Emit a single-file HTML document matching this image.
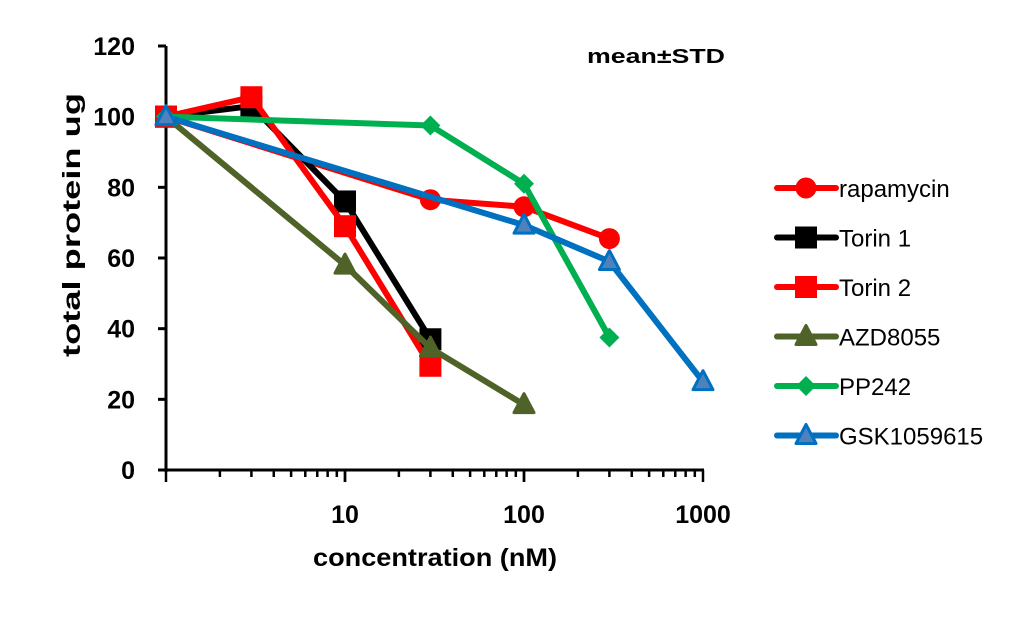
<!DOCTYPE html>
<html><head><meta charset="utf-8"><style>
body{margin:0;background:#fff;font-family:"Liberation Sans",sans-serif;}
svg text{font-family:"Liberation Sans",sans-serif;font-weight:bold;}
</style></head><body>
<svg id="chart" width="1020" height="632">
<g id="axes"></g><g id="series"></g><g id="legend"></g>
<text x="587" y="63" font-size="20" textLength="138" lengthAdjust="spacingAndGlyphs">mean±STD</text>
<text x="313" y="566" font-size="25" textLength="244" lengthAdjust="spacingAndGlyphs">concentration (nM)</text>
<text transform="translate(80,357) rotate(-90)" font-size="25" textLength="264" lengthAdjust="spacingAndGlyphs">total protein ug</text>
</svg>
<script>
const seriesNames=["rapamycin","Torin 1","Torin 2","AZD8055","PP242","GSK1059615"];
const rapamycinX=[1,30,100,300], rapamycinY=[100,76.5,74.5,65.5];
const torin1X=[1,3,10,30], torin1Y=[100,103,76,37];
const torin2X=[1,3,10,30], torin2Y=[100,105.5,69,29.5];
const azdX=[1,10,30,100], azdY=[100,58,34.5,18.5];
const pp242X=[1,30,100,300], pp242Y=[100,97.5,81,37.5];
const gskX=[1,100,300,1000], gskY=[100,69.3,59,25];
const yTicks=[0,20,40,60,80,100,120];
const xTickLabels=[10,100,1000];
const NS="http://www.w3.org/2000/svg";
const X=v=>166+Math.log10(v)*179, Y=v=>470-v*(424/120);
function mk(t,a,p){const e=document.createElementNS(NS,t);for(const k in a)e.setAttribute(k,a[k]);p.appendChild(e);return e;}
const ax=document.getElementById('axes');
let l=mk('line',{x1:166,y1:46,x2:166,y2:472,stroke:'#000','stroke-width':3},ax);


l=mk('line',{x1:164,y1:470,x2:704,y2:470,stroke:'#000','stroke-width':3},ax);


yTicks.forEach(v=>{mk('line',{x1:158,y1:Y(v),x2:166,y2:Y(v),stroke:'#000','stroke-width':3},ax);
 const t=mk('text',{x:135,y:Y(v)+9,'font-size':25,'text-anchor':'end'},ax);t.textContent=v;
 
 });
for(let d=0;d<3;d++)for(let m=1;m<=10;m++){const v=Math.pow(10,d)*m;const major=m===1||m===10;
 mk('line',{x1:X(v),y1:470,x2:X(v),y2:major?482:477,stroke:'#000','stroke-width':2.5},ax);}
xTickLabels.forEach(v=>{const t=mk('text',{x:X(v),y:523,'font-size':25,'text-anchor':'middle'},ax);t.textContent=v;
 
 });
const defs=[[rapamycinX,rapamycinY,'#ff0000','#ff0000','circle'],[torin1X,torin1Y,'#000','#000','square'],
[torin2X,torin2Y,'#ff0000','#ff0000','square'],[azdX,azdY,'#4f6228','#4f6228','triangle'],
[pp242X,pp242Y,'#00b050','#00b050','diamond'],[gskX,gskY,'#0070c0','#4f81bd','triangle']];
function marker(sh,cx,cy,stroke,fill,g){
 if(sh==='circle')return mk('circle',{cx,cy,r:10.5,fill:stroke},g);
 if(sh==='square')return mk('rect',{x:cx-11,y:cy-11,width:22,height:22,fill:stroke},g);
 if(sh==='diamond')return mk('polygon',{points:`${cx},${cy-10} ${cx+10},${cy} ${cx},${cy+10} ${cx-10},${cy}`,fill:stroke},g);
 return mk('polygon',{points:`${cx},${cy-11} ${cx+10},${cy+8} ${cx-10},${cy+8}`,fill:fill,stroke:stroke,'stroke-width':3,'stroke-linejoin':'round'},g);
}
const sg=document.getElementById('series'),lg=document.getElementById('legend');
defs.forEach((d,i)=>{const g=mk('g',{},sg);
 
 
 mk('polyline',{points:d[0].map((x,j)=>X(x)+','+Y(d[1][j])).join(' '),fill:'none',stroke:d[2],'stroke-width':6,'stroke-linejoin':'round'},g);
 d[0].forEach((x,j)=>marker(d[4],X(x),Y(d[1][j]),d[2],d[3],g));
 const ly=188+i*49.5;const e=mk('g',{},lg);
 
 
 mk('line',{x1:777,y1:ly,x2:836,y2:ly,stroke:d[2],'stroke-width':6,'stroke-linecap':'round'},e);
 marker(d[4],806,ly,d[2],d[3],e);
 const t=mk('text',{x:839,y:ly+9,'font-size':24},e);t.style.fontWeight='normal';t.textContent=seriesNames[i];
});
</script>
</body></html>
